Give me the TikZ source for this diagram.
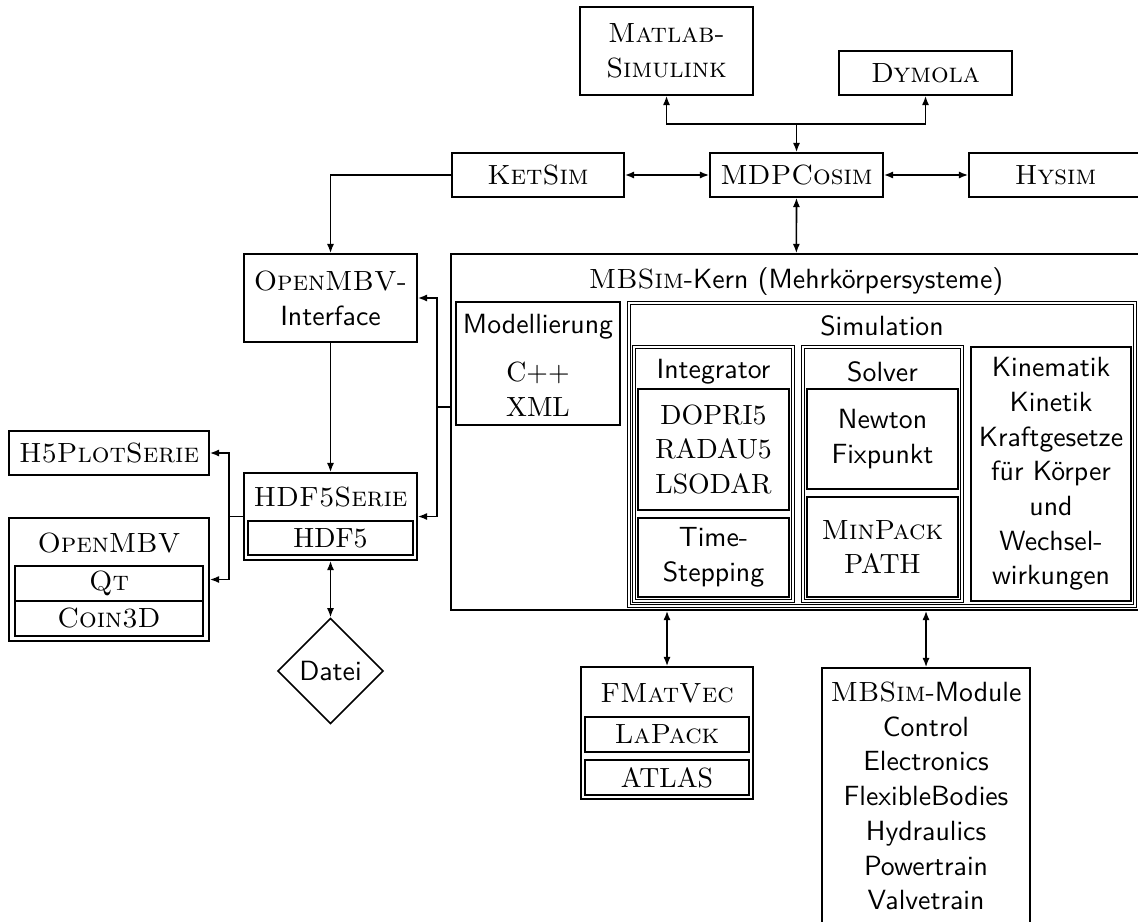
\documentclass[tikz,border=0pt]{standalone}
\usepackage{fontspec}
\usetikzlibrary{arrows.meta,shapes.geometric}

\tikzset{
  box/.style={draw, line width=0.55pt, rectangle, inner sep=0pt, align=center},
  dbox/.style={box, line width=0.45pt, double, double distance=0.6pt},
  sz/.style 2 args={minimum width=#1*0.36pt, minimum height=#2*0.36pt},
  con/.style={line width=0.6pt},
  arr/.style={con, -{Latex[length=3.4pt,width=2.6pt]}},
  barr/.style={con, {Latex[length=3.4pt,width=2.6pt]}-{Latex[length=3.4pt,width=2.6pt]}},
}

\begin{document}
\begin{tikzpicture}[x=0.36pt, y=-0.36pt, font=\fontsize{10}{12.5}\selectfont]
		\useasboundingbox (0,0) rectangle (1138,922);
		\clip (0,0) rectangle (1138,922);% right and bottom boxes run off the page

		% co-simulation row
		\node[box, sz={173}{88}] (matlab) at (666.5,51) {\textsc{Matlab-}\\\textsc{Simulink}};
		\node[box, sz={173}{44}] (dymola) at (925.5,73) {\textsc{Dymola}};
		\node[box, sz={172}{44}] (ketsim) at (538,175) {\textsc{KetSim}};
		\node[box, sz={173}{44}] (mdpcosim) at (796.5,175) {\textsc{MDPCosim}};
		\node[box, sz={173}{44}] (hysim) at (1055.5,175) {\textsc{Hysim}};
		\coordinate (CosimJoin) at (796.5,124);
		\draw[arr] (CosimJoin) -- (mdpcosim);
		\draw[arr] (CosimJoin) -| (matlab.south);
		\draw[arr] (CosimJoin) -| (dymola.south);
		\draw[barr] (ketsim) -- (mdpcosim);
		\draw[barr] (mdpcosim) -- (hysim);

		% visualisation and output
		\node[box, sz={173}{88}] (interface) at (330.5,298) {\textsc{OpenMBV-}\\{\sffamily Interface}};
		\node[box, sz={173}{87}] (hdfserie) at (330.5,516.5) {};
		\node (hdfserietitle) at (330.5,497) {\textsc{HDF5Serie}};
		\node[box, sz={165}{34}] (hdffive) at (330.5,538) {HDF5};
		\node[box, sz={200}{44}] (plotserie) at (109,453) {\textsc{H5PlotSerie}};
		\node[box, sz={200}{123}] (openmbv) at (109,579.5) {};
		\node (openmbvtitle) at (109,543) {\textsc{OpenMBV}};
		\node[box, sz={188}{35}] (qt) at (109,583.5) {\textsc{Qt}};
		\node[box, sz={188}{35}] (coin) at (109,618.5) {\textsc{Coin3D}};
		\node[draw, line width=0.55pt, diamond, inner sep=0pt, minimum width=38pt, minimum height=38pt] (datei) at (330.5,671) {\sffamily Datei};
		\draw[arr] (ketsim.west) -| (interface.north);
		\draw[arr] (interface) -- (hdfserie);
		\coordinate (ViewJoin) at (229,516.5);
		\draw[con] (hdfserie.west) -- (ViewJoin);
		\draw[arr] (ViewJoin) |- (plotserie);
		\draw[arr] (ViewJoin) |- (openmbv);
		\draw[barr] (hdfserie) -- (datei);

		% MBSim kernel
		\node[box, sz={690}{356}] (kern) at (796,432) {};
		\node (kerntitle) at (796,282) {\textsc{MBSim}\sffamily-Kern (Mehrkörpersysteme)};
		\node[box, sz={164}{123}] (modell) at (538,363.5) {};
		\node (modelltitle) at (538,327) {\sffamily Modellierung};
		\node[align=center] (modelltext) at (538,389) {C++\\XML};
		\node[dbox, sz={506}{303}] (simulation) at (882,454.5) {};
		\node (simulationtitle) at (882,326) {\sffamily Simulation};
		\node[dbox, sz={159}{254}] (integrator) at (713.5,474) {};
		\node (integratortitle) at (713.5,372) {\sffamily Integrator};
		\node[box, sz={151}{121}] (dopri) at (713.5,449.5) {DOPRI5\\RADAU5\\LSODAR};
		\node[box, sz={151}{79}] (timestepping) at (713.5,557.5) {\sffamily Time-\\\sffamily Stepping};
		\node[dbox, sz={159}{254}] (solver) at (882.5,474) {};
		\node (solvertitle) at (882.5,372) {\sffamily Solver};
		\node[box, sz={151}{100}] (newton) at (882.5,439) {\sffamily Newton\\\sffamily Fixpunkt};
		\node[box, sz={151}{100}] (minpack) at (882.5,547) {\textsc{MinPack}\\PATH};
		\node[box, sz={160}{254}] (kinematik) at (1051,474) {\sffamily Kinematik\\\sffamily Kinetik\\\sffamily Kraftgesetze\\\sffamily für Körper\\\sffamily und\\\sffamily Wechsel-\\\sffamily wirkungen};
		\draw[barr] (mdpcosim) -- (kern);
		\coordinate (KernJoin) at (437,407);
		\draw[con] (kern.west |- KernJoin) -- (KernJoin);
		\draw[arr] (KernJoin) |- (interface);
		\draw[arr] (KernJoin) |- (hdfserie);

		% libraries and modules
		\node[box, sz={172}{132}] (fmatvec) at (667,733) {};
		\node (fmatvectitle) at (667,693) {\textsc{FMatVec}};
		\node[box, sz={164}{35}] (lapack) at (667,734.5) {\textsc{LaPack}};
		\node[box, sz={164}{35}] (atlas) at (667,777.5) {ATLAS};
		\node[box, sz={208}{256}] (module) at (926,796) {\textsc{MBSim}\sffamily-Module\\\sffamily Control\\\sffamily Electronics\\\sffamily FlexibleBodies\\\sffamily Hydraulics\\\sffamily Powertrain\\\sffamily Valvetrain};
		\draw[barr] (kern.south -| fmatvec.north) -- (fmatvec);
		\draw[barr] (kern.south -| module.north) -- (module);
\end{tikzpicture}
\end{document}
